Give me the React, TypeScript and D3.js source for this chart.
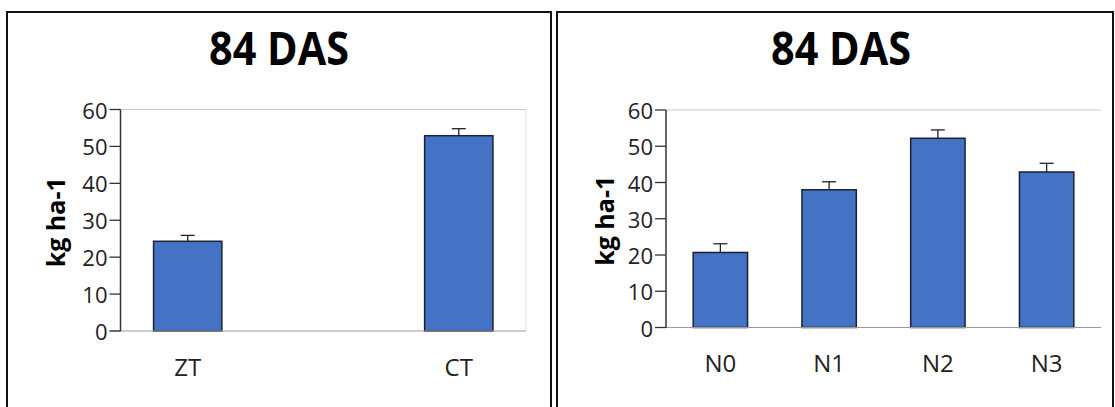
import React from "react";
import * as d3 from "d3";

const tillageCats = ["ZT", "CT"];
const tillageMeans = [24.3, 52.9];
const tillageErr = [1.6, 1.9];

const nitrogenCats = ["N0", "N1", "N2", "N3"];
const nitrogenMeans = [20.7, 38.0, 52.2, 42.9];
const nitrogenErr = [2.4, 2.2, 2.3, 2.4];

const yTicks = [0, 10, 20, 30, 40, 50, 60];
const titles = ["84 DAS", "84 DAS"];
const yLabel = "kg ha-1";

const BAR = "#4472C4";
const BAR_STROKE = "#1c2233";
const FONT = "'Open Sans', 'Noto Sans', sans-serif";

type PanelProps = {
  box: [number, number, number, number];
  title: string;
  titleX: number;
  cats: string[];
  means: number[];
  errs: number[];
  x0: number;
  x1: number;
  yBottom: number;
  yTop: number;
  padInner: number;
  padOuter: number;
  labelX: number;
  xLabelY: number;
  rightBorder: boolean;
};

function Panel(p: PanelProps) {
  const y = d3.scaleLinear().domain([0, 60]).range([p.yBottom, p.yTop]);
  const x = d3
    .scaleBand<string>()
    .domain(p.cats)
    .range([p.x0, p.x1])
    .paddingInner(p.padInner)
    .paddingOuter(p.padOuter);
  const bw = x.bandwidth();
  const [bx, by, bwid, bh] = p.box;
  return (
    <g>
      <rect x={bx} y={by} width={bwid} height={bh} fill="#fff" stroke="#111" strokeWidth={2} />
      <text
        x={p.titleX}
        y={65}
        textAnchor="middle"
        fontFamily={FONT}
        fontWeight={700}
        fontSize={47}
        textLength={140}
        lengthAdjust="spacingAndGlyphs"
        fill="#000"
      >
        {p.title}
      </text>
      {/* top grid line */}
      <line x1={p.x0} x2={p.x1} y1={y(60)} y2={y(60)} stroke="#c8c8c8" strokeWidth={1} />
      {p.rightBorder && (
        <line x1={p.x1} x2={p.x1} y1={y(60)} y2={y(0)} stroke="#e0e0e0" strokeWidth={1} />
      )}
      {/* bars */}
      {p.cats.map((c, i) => {
        const xc = (x(c) as number) + bw / 2;
        const top = y(p.means[i]);
        const cap = y(p.means[i] + p.errs[i]);
        return (
          <g key={c}>
            <rect
              x={x(c) as number}
              y={top}
              width={bw}
              height={y(0) - top}
              fill={BAR}
              stroke={BAR_STROKE}
              strokeWidth={1.5}
            />
            <line x1={xc} x2={xc} y1={top} y2={cap} stroke="#222" strokeWidth={1.3} />
            <line x1={xc - 7} x2={xc + 7} y1={cap} y2={cap} stroke="#222" strokeWidth={1.3} />
            <text
              x={xc}
              y={p.xLabelY}
              textAnchor="middle"
              fontFamily={FONT}
              fontSize={24}
              fill="#222"
            >
              {c}
            </text>
          </g>
        );
      })}
      {/* baseline */}
      <line x1={p.x0 - 11} x2={p.x1} y1={y(0)} y2={y(0)} stroke="#9a9a9a" strokeWidth={1.2} />
      {/* y axis */}
      <line x1={p.x0} x2={p.x0} y1={y(60)} y2={y(0)} stroke="#333" strokeWidth={1.5} />
      {yTicks.map((t) => (
        <g key={t}>
          <line x1={p.x0 - 11} x2={p.x0} y1={y(t)} y2={y(t)} stroke="#333" strokeWidth={1.3} />
          <text
            x={p.x0 - 13}
            y={y(t)}
            textAnchor="end"
            dominantBaseline="central"
            fontFamily={FONT}
            fontSize={22}
            fill="#222"
          >
            {t}
          </text>
        </g>
      ))}
      <text
        transform={`translate(${p.labelX},${(y(0) + y(60)) / 2 + 2}) rotate(-90)`}
        textAnchor="middle"
        dominantBaseline="central"
        fontFamily={FONT}
        fontWeight={700}
        fontSize={25}
        fill="#000"
      >
        {yLabel}
      </text>
    </g>
  );
}

export default function App() {
  return (
    <svg
      width={1115}
      height={407}
      style={{ position: "absolute", left: 0, top: 0, display: "block", background: "#fff" }}
    >
      <rect x={0} y={0} width={1115} height={407} fill="#fff" />
      <Panel
        box={[7, 12, 544, 420]}
        title={titles[0]}
        titleX={279}
        cats={tillageCats}
        means={tillageMeans}
        errs={tillageErr}
        x0={120.5}
        x1={526}
        yBottom={331}
        yTop={109.5}
        padInner={0.748}
        padOuter={0.122}
        labelX={55}
        xLabelY={376}
        rightBorder={true}
      />
      <Panel
        box={[557, 12, 556, 420]}
        title={titles[1]}
        titleX={841}
        cats={nitrogenCats}
        means={nitrogenMeans}
        errs={nitrogenErr}
        x0={666}
        x1={1101}
        yBottom={327.5}
        yTop={110}
        padInner={0.5}
        padOuter={0.25}
        labelX={604}
        xLabelY={372}
        rightBorder={false}
      />
    </svg>
  );
}
